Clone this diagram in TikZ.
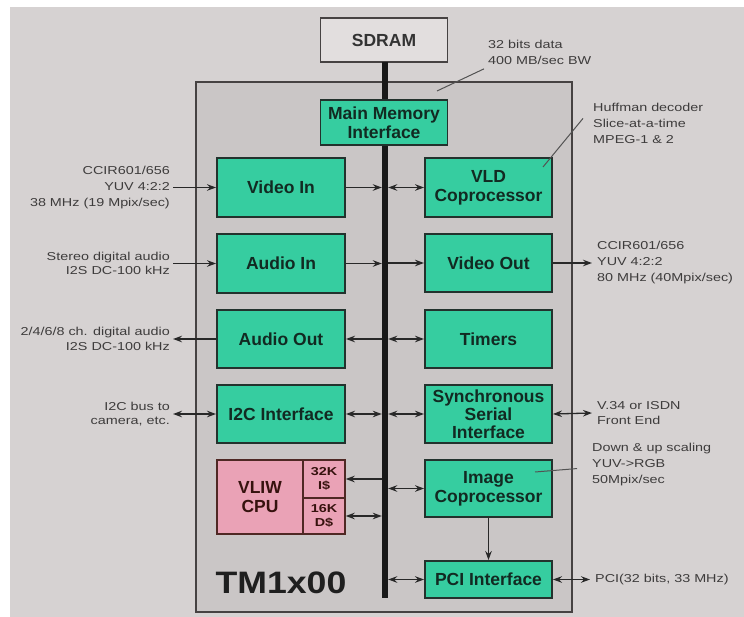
\documentclass[tikz,border=0pt]{standalone}
\usepackage{fontspec}
\setmainfont{Liberation Sans}
\newfontfamily\annfont[FakeStretch=1.25]{Liberation Sans}
\newfontfamily\bigfont[FakeStretch=1.15]{Liberation Sans}
\usetikzlibrary{arrows.meta}
\definecolor{bgout}{RGB}{214,210,210}
\definecolor{chipfill}{RGB}{202,198,198}
\definecolor{chipline}{RGB}{70,66,66}
\definecolor{sdramfill}{RGB}{226,222,222}
\definecolor{tealbox}{RGB}{54,205,160}
\definecolor{pinkbox}{RGB}{234,162,182}
\definecolor{boxline}{RGB}{35,50,45}
\definecolor{boxtext}{RGB}{18,42,34}
\definecolor{anntext}{RGB}{62,60,60}
\definecolor{linec}{RGB}{40,40,40}
\tikzset{
  blk/.style={draw=boxline, line width=1.9pt, fill=tealbox, text=boxtext, align=center,
    inner sep=0pt, font=\fontsize{17.5}{19}\selectfont\bfseries},
  colbox/.style={blk, minimum width=127pt},
  pinkb/.style={draw=boxline!80!red, line width=1.4pt, fill=pinkbox, text=boxtext!70!red!60!black,
    align=center, inner sep=0pt},
  ann/.style={font=\annfont\fontsize{11.5}{16}\selectfont, text=anntext, inner sep=0pt},
  ann2/.style={font=\annfont\fontsize{11.5}{14.5}\selectfont, text=anntext, inner sep=0pt},
  arr/.style={draw=linec, line width=1.3pt, -{Stealth[length=9pt,width=6.5pt]}},
  darr/.style={draw=linec, line width=1.3pt, {Stealth[length=9pt,width=6.5pt]}-{Stealth[length=9pt,width=6.5pt]}},
  pointer/.style={draw=linec!80, line width=1pt}
}
\begin{document}
\begin{tikzpicture}[x=1pt,y=-1pt]
\fill[white] (0,0) rectangle (744,617);
\fill[bgout] (10,7) rectangle (744,617);
\useasboundingbox (0,0) rectangle (744,617);

% chip outline
\node[draw=chipline, line width=1.5pt, fill=chipfill, minimum width=376pt, minimum height=530pt, inner sep=0pt] (chip) at (384,347) {};

% SDRAM
\node[draw=chipline, line width=1.8pt, fill=sdramfill, minimum width=127pt, minimum height=44pt, inner sep=0pt,
  font=\fontsize{17.5}{19}\selectfont\bfseries, text=black!80] (sdram) at (384,40) {SDRAM};

% bus
\node[fill=black!90, inner sep=0pt, minimum width=6pt, minimum height=536pt] (bus) at (385,330) {};

% main memory interface
\node[colbox, minimum height=45pt] (mmi) at (384,122.5) {Main Memory\\Interface};

% left column
\node[colbox, minimum width=128pt, minimum height=59pt] (vin)  at (281,187.5) {Video In};
\node[colbox, minimum width=128pt, minimum height=59pt] (ain)  at (281,263.5) {Audio In};
\node[colbox, minimum width=128pt, minimum height=58pt] (aout) at (281,339)   {Audio Out};
\node[colbox, minimum width=128pt, minimum height=58pt] (i2c)  at (281,414)   {I2C Interface};

% VLIW CPU
\node[pinkb, minimum width=86pt, minimum height=74pt, font=\fontsize{17.5}{19}\selectfont\bfseries] (cpu) at (260,497) {VLIW\\CPU};
\node[pinkb, minimum width=42pt, minimum height=38pt, font=\annfont\fontsize{11.5}{14}\selectfont\bfseries] (ic) at (324,479) {32K\\I\$};
\node[pinkb, minimum width=42pt, minimum height=36pt, font=\annfont\fontsize{11.5}{14}\selectfont\bfseries] (dc) at (324,516) {16K\\D\$};

% right column
\node[colbox, minimum height=59pt] (vld)  at (488.5,187.5) {VLD\\Coprocessor};
\node[colbox, minimum height=58pt] (vout) at (488.5,263)   {Video Out};
\node[colbox, minimum height=58pt] (tim)  at (488.5,339)   {Timers};
\node[colbox, minimum height=58pt, font=\fontsize{17.5}{18}\selectfont\bfseries] (ssi) at (488.5,414) {Synchronous\\Serial\\Interface};
\node[colbox, minimum height=57pt] (img)  at (488.5,488.5) {Image\\Coprocessor};
\node[colbox, minimum height=37pt] (pci)  at (488.5,579.5) {PCI Interface};

% chip name
\node[font=\bigfont\fontsize{31}{31}\selectfont\bfseries, text=black!88] (tm) at (281,583) {TM1x00};

% bus connections, left
\draw[arr]  (vin.east)  -- (vin.east -| bus.west);
\draw[arr]  (ain.east)  -- (ain.east -| bus.west);
\draw[arr]  (aout.east -| bus.west) -- (aout.east);
\draw[darr] (i2c.east)  -- (i2c.east -| bus.west);
\draw[arr]  (ic.east -| bus.west) -- (ic.east);
\draw[darr] (dc.east)   -- (dc.east -| bus.west);

% bus connections, right
\draw[darr] (vld.west -| bus.east)  -- (vld.west);
\draw[arr]  (vout.west -| bus.east) -- (vout.west);
\draw[darr] (tim.west -| bus.east)  -- (tim.west);
\draw[darr] (ssi.west -| bus.east)  -- (ssi.west);
\draw[darr] (img.west -| bus.east)  -- (img.west);
\draw[darr] (pci.west -| bus.east)  -- (pci.west);
\draw[arr]  (img.south) -- (pci.north);

% external labels, left
\node[ann, align=right, anchor=east, inner xsep=3pt] (lvin) at (173,187.5) {CCIR601/656\\YUV 4:2:2\\38 MHz (19 Mpix/sec)};
\node[ann2, align=right, anchor=east, inner xsep=3pt] (lain) at (173,263.5) {Stereo digital audio\\I2S DC-100 kHz};
\node[ann2, align=right, anchor=east, inner xsep=3pt] (laout) at (173,339) {2/4/6/8 ch. digital audio\\I2S DC-100 kHz};
\node[ann2, align=right, anchor=east, inner xsep=3pt] (li2c) at (173,414) {I2C bus to\\camera, etc.};
\draw[arr]  (lvin.east) -- (vin.west);
\draw[arr]  (lain.east) -- (ain.west);
\draw[arr]  (aout.west) -- (laout.east);
\draw[darr] (li2c.east) -- (i2c.west);

% external labels, right
\node[ann, align=left, anchor=west, inner xsep=5pt] (rvout) at (592,263) {CCIR601/656\\YUV 4:2:2\\80 MHz (40Mpix/sec)};
\node[ann2, align=left, anchor=west, inner xsep=5pt] (rssi) at (592,413) {V.34 or ISDN\\Front End};
\node[ann, align=left, anchor=west, inner xsep=5pt] (rpci) at (590,579.5) {PCI(32 bits, 33 MHz)};
\draw[arr]  (vout.east) -- (rvout.west);
\draw[darr] (ssi.east)  -- (rssi.west);
\draw[darr] (pci.east)  -- (rpci.west);

% notes with pointer lines
\node[ann, align=left, anchor=north west] (n32) at (488,40) {32 bits data\\400 MB/sec BW};
\coordinate (p32) at (437,91);
\draw[pointer] (p32) -- ([xshift=-4pt,yshift=-4pt]n32.south west);

\node[ann, align=left, anchor=north west] (nvld) at (593,103) {Huffman decoder\\Slice-at-a-time\\MPEG-1 \& 2};
\coordinate (pvld) at (543,167);
\draw[pointer] (pvld) -- ([xshift=-10pt,yshift=5pt]nvld.west);

\node[ann, align=left, anchor=north west] (nimg) at (592,443) {Down \& up scaling\\YUV->RGB\\50Mpix/sec};
\coordinate (pimg) at (535,472);
\draw[pointer] (pimg) -- ([xshift=-15pt,yshift=-4pt]nimg.west);
\end{tikzpicture}
\end{document}
